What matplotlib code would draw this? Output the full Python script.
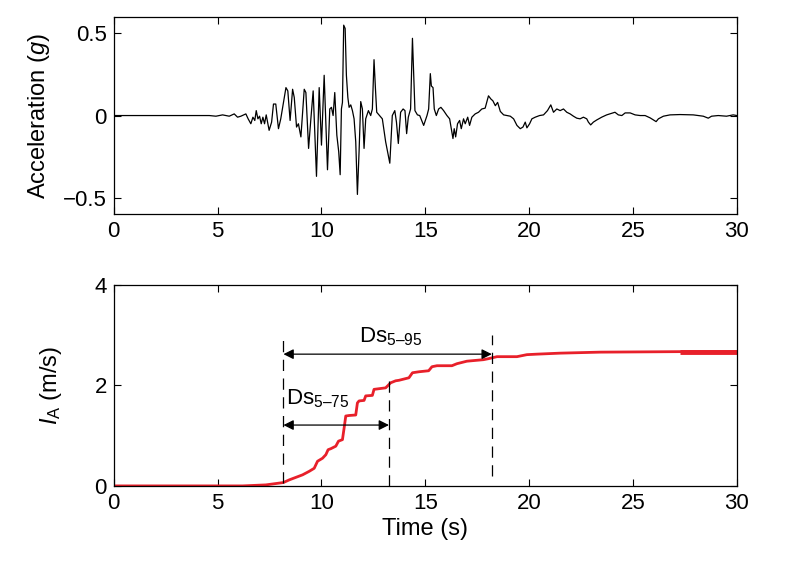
import matplotlib
matplotlib.use("Agg")
import matplotlib.pyplot as plt

plt.rcParams['font.family'] = ['Liberation Sans', 'DejaVu Sans']
plt.rcParams['mathtext.fontset'] = 'custom'
plt.rcParams['mathtext.rm'] = 'Liberation Sans'
plt.rcParams['mathtext.it'] = 'Liberation Sans:italic'

# ground motion record
acc_t = [0, 4.6, 4.92, 5.24, 5.56, 5.80, 5.96, 6.12, 6.36, 6.47, 6.60, 6.70, 6.79, 6.86,
         6.94, 7.02, 7.10, 7.18, 7.26, 7.34, 7.48, 7.60, 7.69, 7.80, 7.93, 8.04, 8.16,
         8.29, 8.38, 8.49, 8.61, 8.69, 8.80, 8.89, 9.01, 9.17, 9.25, 9.38, 9.49, 9.60,
         9.76, 9.89, 10.0, 10.13, 10.29, 10.40, 10.48, 10.56, 10.64, 10.74, 10.83, 10.90,
         10.96, 11.01, 11.07, 11.14, 11.20, 11.27, 11.33, 11.41, 11.49, 11.57, 11.65,
         11.73, 11.81, 11.89, 11.97, 12.05, 12.13, 12.26, 12.37, 12.45, 12.53, 12.60,
         12.66, 12.77, 12.93, 13.09, 13.29, 13.41, 13.53, 13.61, 13.70, 13.81, 13.93,
         14.02, 14.10, 14.18, 14.29, 14.38, 14.44, 14.50, 14.62, 14.73, 14.92, 15.08,
         15.16, 15.24, 15.29, 15.37, 15.43, 15.53, 15.64, 15.75, 15.88, 16.04, 16.17,
         16.25, 16.33, 16.39, 16.46, 16.55, 16.65, 16.73, 16.84, 16.92, 17.04, 17.13,
         17.24, 17.40, 17.56, 17.72, 17.88, 18.04, 18.16, 18.25, 18.37, 18.48, 18.61,
         18.77, 18.93, 19.09, 19.25, 19.41, 19.57, 19.70, 19.81, 19.89, 20.02, 20.13,
         20.29, 20.50, 20.69, 20.88, 21.04, 21.17, 21.33, 21.49, 21.65, 21.81, 21.97,
         22.13, 22.29, 22.45, 22.61, 22.77, 22.85, 22.96, 23.09, 23.25, 23.49, 23.73,
         23.97, 24.13, 24.29, 24.46, 24.62, 24.86, 25.10, 25.34, 25.58, 25.82, 25.98,
         26.11, 26.22, 26.46, 26.78, 27.26, 27.90, 28.38, 28.62, 28.78, 29.10, 29.50,
         29.82, 30.0]
acc_g = [0, 0, -0.004, 0.004, -0.004, 0.01, -0.01, -0.004, 0.01, -0.02, -0.05, -0.01,
         -0.03, 0.03, -0.02, -0.004, -0.05, -0.01, -0.05, 0.004, -0.09, -0.04, 0.07, 0.07,
         -0.08, -0.02, 0.07, 0.17, 0.15, -0.03, 0.16, 0.11, -0.07, -0.05, -0.13, 0.16,
         0.14, -0.20, -0.02, 0.15, -0.37, 0.17, -0.18, 0.245, -0.33, 0.04, 0.05, 0.0,
         0.14, -0.12, -0.22, -0.36, 0.04, 0.08, 0.55, 0.53, 0.245, 0.11, 0.05, 0.065,
         0.03, -0.02, -0.16, -0.48, -0.22, 0.085, 0.04, -0.20, -0.02, 0.03, 0.0, 0.04,
         0.34, 0.16, 0.02, 0.004, -0.02, -0.16, -0.29, 0.0, 0.03, -0.04, -0.17, 0.02,
         0.04, 0.03, -0.11, -0.01, 0.04, 0.47, 0.245, 0.03, 0.004, 0.0, -0.06, 0.0, 0.04,
         0.255, 0.18, 0.17, 0.04, 0.0, 0.04, 0.05, 0.03, 0.0, -0.02, -0.08, -0.14, -0.08,
         -0.13, -0.05, -0.03, -0.08, -0.02, -0.05, -0.01, -0.06, -0.01, 0.01, 0.02, 0.04,
         0.045, 0.12, 0.10, 0.09, 0.06, 0.08, 0.025, 0.004, 0.0, -0.004, -0.02, -0.06,
         -0.08, -0.07, -0.04, -0.075, -0.05, -0.02, -0.01, 0.0, 0.004, 0.03, 0.065, 0.02,
         0.04, 0.03, 0.04, 0.02, 0.01, -0.004, -0.016, -0.02, -0.01, -0.02, -0.04, -0.057,
         -0.04, -0.027, -0.01, 0.004, 0.014, 0.02, 0.004, 0.0, 0.016, 0.016, 0.004, 0.0,
         0.0, -0.014, -0.027, -0.037, -0.02, -0.004, 0.004, 0.006, 0.004, -0.004, -0.016,
         -0.004, 0.0, -0.004, 0.004, 0.0]

# Arias intensity build-up
ia_t = [0, 6.2, 7.32, 8.17, 8.45, 8.77, 9.09, 9.41, 9.65, 9.81, 10.05, 10.21, 10.32,
        10.45, 10.69, 10.82, 11.01, 11.09, 11.17, 11.33, 11.65, 11.73, 11.81, 12.05,
        12.13, 12.45, 12.53, 13.09, 13.33, 13.57, 13.73, 14.21, 14.38, 14.70, 15.16,
        15.32, 15.56, 16.28, 16.52, 17.0, 17.80, 18.04, 18.45, 19.41, 19.89, 20.37,
        21.49, 23.41, 27.26, 30.0]
ia_val = [0, 0, 0.02, 0.067, 0.12, 0.17, 0.22, 0.29, 0.35, 0.49, 0.55, 0.62, 0.72, 0.74,
          0.79, 0.89, 0.92, 1.15, 1.39, 1.40, 1.41, 1.65, 1.69, 1.70, 1.79, 1.80, 1.92,
          1.95, 2.05, 2.09, 2.10, 2.15, 2.25, 2.27, 2.29, 2.37, 2.39, 2.39, 2.43, 2.48,
          2.51, 2.53, 2.57, 2.57, 2.61, 2.62, 2.64, 2.66, 2.67, 2.67]

# significant duration markers (s)
t05, t75, t95 = 8.17, 13.25, 18.2

fig = plt.figure(figsize=(8.01, 5.65), dpi=100)
ax1 = fig.add_axes([0.142, 0.621, 0.778, 0.349])
ax2 = fig.add_axes([0.142, 0.140, 0.778, 0.356])

ax1.plot(acc_t, acc_g, color='black', lw=0.9)
ax1.set_xlim(0, 30)
ax1.set_ylim(-0.6, 0.6)
ax1.set_yticks([-0.5, 0, 0.5])
ax1.set_yticklabels(['\u22120.5', '0', '0.5'])
ax1.set_ylabel('Acceleration ($g$)', fontsize=17, labelpad=8)

red = '#e8202a'
ax2.plot(ia_t, ia_val, color=red, lw=2)
# the tail of the trace is drawn heavier in the original
ax2.plot(ia_t[-2:], ia_val[-2:], color=red, lw=3.5, solid_capstyle='butt')
ax2.set_xlim(0, 30)
ax2.set_ylim(0, 4)
ax2.set_yticks([0, 2, 4])
ax2.set_ylabel('$I_{\\mathrm{A}}$ (m/s)', fontsize=17, labelpad=22)
ax2.set_xlabel('Time (s)', fontsize=17, labelpad=3)

for ax in (ax1, ax2):
    ax.set_xticks(range(0, 31, 5))
    ax.tick_params(direction='in', length=5, width=0.8, labelsize=16,
                   top=True, right=True, pad=5)
    for s in ax.spines.values():
        s.set_linewidth(0.9)

dash = (0, (9, 6))
ax2.plot([t05, t05], [0.05, 3.0], color='black', lw=0.9, linestyle=dash)
ax2.plot([t75, t75], [0.0, 2.2], color='black', lw=0.9, linestyle=dash)
ax2.plot([t95, t95], [0.2, 3.0], color='black', lw=0.9, linestyle=dash)

arrow = dict(arrowstyle='<|-|>', color='black', lw=0.9, mutation_scale=15,
             shrinkA=0, shrinkB=0)
ax2.annotate('', xy=(t95, 2.62), xytext=(t05, 2.62), arrowprops=arrow)
ax2.annotate('', xy=(t75, 1.21), xytext=(t05, 1.21), arrowprops=arrow)
ax2.text(11.8, 2.85, 'Ds$_{\\mathrm{5\u201395}}$', fontsize=16, va='baseline')
ax2.text(8.3, 1.62, 'Ds$_{\\mathrm{5\u201375}}$', fontsize=16, va='baseline')

fig.savefig('out.png', dpi=100)
